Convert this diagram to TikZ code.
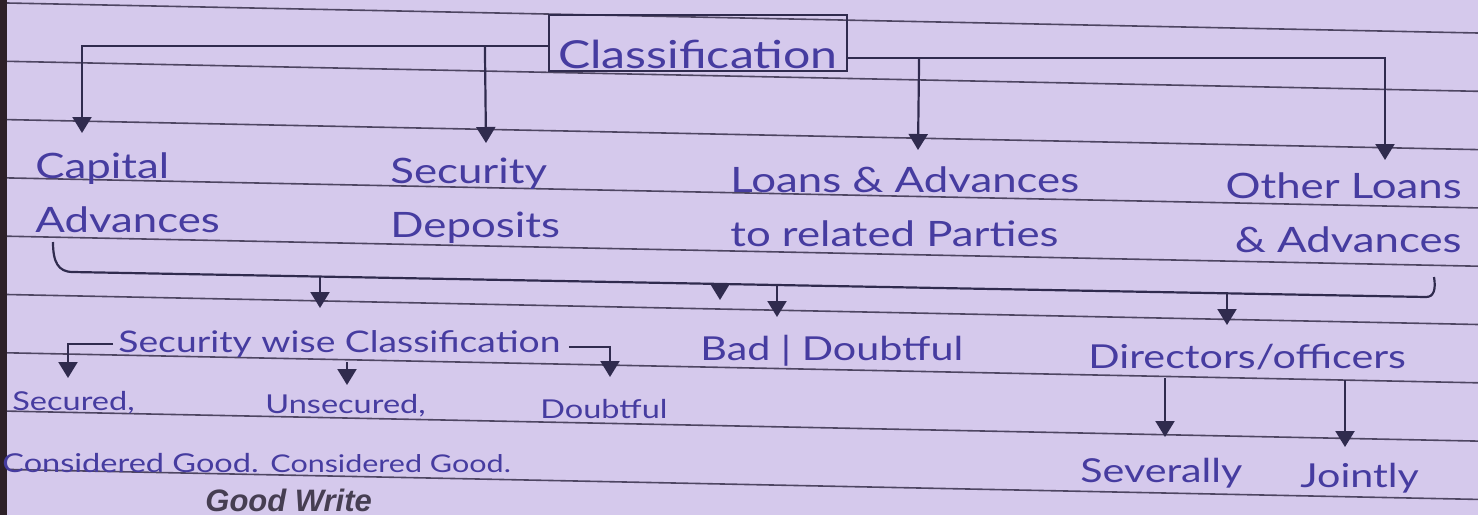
\documentclass[tikz,border=0pt]{standalone}
\usepackage{fontspec}
\setmainfont{Lato}
\newfontfamily\hand[FakeStretch=1.25]{Lato}
\newfontfamily\brandfont{Liberation Sans}
\usetikzlibrary{arrows.meta,calc}
\definecolor{paper}{RGB}{213,201,236}
\definecolor{ruleline}{RGB}{78,70,98}
\definecolor{ink}{RGB}{70,60,160}
\definecolor{pencil}{RGB}{48,43,78}
\definecolor{brand}{RGB}{70,62,82}
\definecolor{edge}{RGB}{45,32,40}
\newcommand{\two}[2]{\begin{tabular}[t]{@{}l@{}}#1\\#2\end{tabular}}
\newcommand{\twor}[2]{\begin{tabular}[t]{@{}r@{}}#1\\#2\end{tabular}}
\begin{document}
\begin{tikzpicture}[x=0.5pt,y=-0.5pt,
  rule/.style={draw=ruleline,line width=0.8pt},
  lbl/.style={text=ink,inner sep=0pt,anchor=base west,font=\hand\fontsize{17.5}{27}\selectfont},
  sublbl/.style={lbl,font=\hand\fontsize{16.5}{24}\selectfont},
  smalllbl/.style={lbl,font=\hand\fontsize{13}{20}\selectfont},
  conn/.style={draw=pencil,line width=1.1pt},
  arr/.style={conn,-{Triangle[width=9.5pt,length=8pt]}}]
\useasboundingbox (0,0) rectangle (1478,515);
\fill[paper] (0,0) rectangle (1478,515);
\fill[edge] (0,0) rectangle (7,515);
% ruled lines
\foreach \k in {0,...,9}{
  \draw[rule] (7,{3+58.3*\k}) -- (1478,{33+58.3*\k});
}
% top node
\node[draw=pencil,line width=1.1pt,text=ink,inner sep=0pt,minimum width=149pt,
      text height=26.5pt,text depth=1.5pt,anchor=base,
      font=\hand\fontsize{19.3}{24}\selectfont] (cls) at (698,68) {Classification};
% first level
\node[lbl] (cap) at (35,178) {\two{Capital}{Advances}};
\node[lbl] (sec) at (390,183) {\two{Security}{Deposits}};
\node[lbl] (loans) at (730,192) {\two{Loans \& Advances}{to related Parties}};
\node[lbl,anchor=base east] (other) at (1462,198) {\twor{Other Loans}{\& Advances}};
% second level
\node[sublbl,font=\hand\fontsize{14.9}{24}\selectfont] (swc) at (118,352) {Security wise Classification};
\node[sublbl] (bad) at (700,360) {Bad | Doubtful};
\node[sublbl] (dir) at (1088,368) {Directors/officers};
% third level
\node[smalllbl] (secured) at (12,410) {Secured,};
\node[smalllbl] (unsec) at (265,413) {Unsecured,};
\node[smalllbl] (doubt) at (540,418) {Doubtful};
\node[smalllbl] (cg1) at (2,472) {Considered Good.};
\node[smalllbl,font=\hand\fontsize{12.2}{20}\selectfont] (cg2) at (270,472) {Considered Good.};
\node[sublbl] (sev) at (1080,482) {Severally};
\node[sublbl] (joint) at (1300,487) {Jointly};
\node[text=brand,inner sep=0pt,anchor=base west,font=\brandfont\bfseries\itshape\fontsize{15.5}{18}\selectfont] (gw) at (205,511) {Good Write};
% connectors from Classification
\draw[arr] ($(cls.west)+(0,3)$) -| ($(cap.base west)+(47,-45)$);
\draw[arr] ($(cls.west)+(-63,3)$) -- ($(sec.base west)+(96,-40)$);
\draw[arr] ($(cls.east)+(0,15)$) -| ($(other.base east)+(-77,-38)$);
\draw[arr] ($(cls.east)+(71,15)$) -- ($(loans.base west)+(188,-42)$);
% big bracket under first level
\draw[conn] ($(cap.base west)+(18,64)$) .. controls +(0,20) and +(-15,0) .. ($(cap.base west)+(38,94)$)
   -- ($(other.base east)+(-36,99)$) .. controls +(8,0) and +(2,12) .. ($(other.base east)+(-28,79)$);
\draw[arr] ($(swc.base west)+(202,-75)$) -- ($(swc.base west)+(202,-44)$);
\draw[arr] ($(bad.base west)+(20,-76)$) -- ($(bad.base west)+(20,-60)$);
\draw[arr] ($(bad.base west)+(77,-75)$) -- ($(bad.base west)+(77,-43)$);
\draw[arr] ($(dir.base west)+(139,-75)$) -- ($(dir.base west)+(139,-43)$);
% security wise classification branches
\draw[arr] ($(swc.base west)+(-5,-8)$) -| ($(secured.base west)+(56,-32)$);
\draw[arr] ($(swc.base west)+(229,10)$) -- ($(unsec.base west)+(82,-28)$);
\draw[arr] ($(swc.base east)+(8,-5)$) -| ($(doubt.base west)+(70,-41)$);
% directors branches
\draw[arr] ($(dir.base west)+(77,10)$) -- ($(sev.base west)+(85,-45)$);
\draw[arr] ($(dir.base west)+(257,12)$) -- ($(joint.base west)+(45,-40)$);
\end{tikzpicture}
\end{document}
